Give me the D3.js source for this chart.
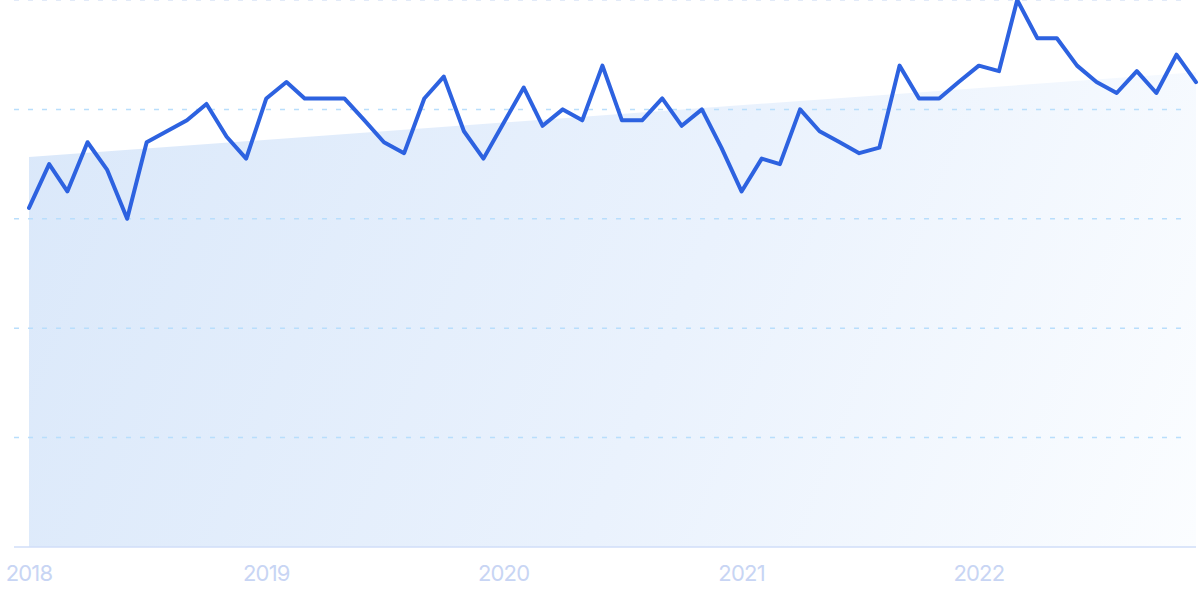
<!DOCTYPE html>
<html>
<head>
<meta charset="utf-8">
<script src="https://cdn.jsdelivr.net/npm/d3@7"></script>
<style>
  html, body { margin: 0; padding: 0; background: #ffffff; }
  svg { display: block; }
</style>
</head>
<body>
<svg id="chart" width="1200" height="599"></svg>
<script>
// ---- data ----
const months = d3.range(60).map(i => new Date(2018, i, 1));
const values = [
  62, 70, 65, 74, 69, 60, 74, 76, 78, 81, 75, 71,
  82, 85, 82, 82, 82, 78, 74, 72, 82, 86, 76, 71,
  77.5, 84, 77, 80, 78, 88, 78, 78, 82, 77, 80, 73,
  65, 71, 70, 80, 76, 74, 72, 73, 88, 82, 82, 85,
  88, 87, 100, 93, 93, 88, 85, 83, 87, 83, 90, 85
];
const trendValues = [71.3, 86.8]; // trend line at first and last month
const gridValues = [20, 40, 60, 80, 100];
const yearTicks = [2018, 2019, 2020, 2021, 2022];

// ---- layout ----
const svg = d3.select("#chart");
const x = d3.scaleTime()
  .domain([months[0], months[months.length - 1]])
  .range([29, 1196]);
const y = d3.scaleLinear().domain([0, 100]).range([547, 0]);

const defs = svg.append("defs");
const grad = defs.append("linearGradient")
  .attr("id", "fillGrad")
  .attr("gradientUnits", "userSpaceOnUse")
  .attr("x1", 29).attr("y1", 80).attr("x2", 1196).attr("y2", 547);
grad.append("stop").attr("offset", "0%").attr("stop-color", "#dae8fa");
grad.append("stop").attr("offset", "55%").attr("stop-color", "#eaf2fd");
grad.append("stop").attr("offset", "100%").attr("stop-color", "#fbfdff");

// trend area
const trendData = [
  { d: months[0], v: trendValues[0] },
  { d: months[months.length - 1], v: trendValues[1] }
];
svg.append("path")
  .datum(trendData)
  .attr("fill", "url(#fillGrad)")
  .attr("d", d3.area().x(d => x(d.d)).y0(y(0)).y1(d => y(d.v)));

// grid lines
svg.append("g")
  .selectAll("line")
  .data(gridValues)
  .join("line")
  .attr("x1", 14).attr("x2", 1190)
  .attr("y1", d => y(d)).attr("y2", d => y(d))
  .attr("stroke", d => d === 100 ? "#d9e4f6" : "#b9defc")
  .attr("stroke-width", 1.5)
  .attr("stroke-dasharray", "5,9");

// baseline
svg.append("line")
  .attr("x1", 14).attr("x2", 1196)
  .attr("y1", y(0)).attr("y2", y(0))
  .attr("stroke", "#d0def8")
  .attr("stroke-width", 1.5);

// line
svg.append("path")
  .datum(values)
  .attr("fill", "none")
  .attr("stroke", "#2d62e0")
  .attr("stroke-width", 4)
  .attr("stroke-linejoin", "round")
  .attr("stroke-linecap", "round")
  .attr("d", d3.line().x((d, i) => x(months[i])).y(d => y(d)));

// year labels
svg.append("g")
  .selectAll("text")
  .data(yearTicks)
  .join("text")
  .attr("x", d => x(new Date(d, 0, 1)))
  .attr("y", 581)
  .attr("text-anchor", "middle")
  .attr("font-family", "Inter, 'Noto Sans', sans-serif")
  .attr("font-size", 22)
  .attr("letter-spacing", "-0.8px")
  .attr("fill", "#c8d5f4")
  .text(d => d);
</script>
</body>
</html>
